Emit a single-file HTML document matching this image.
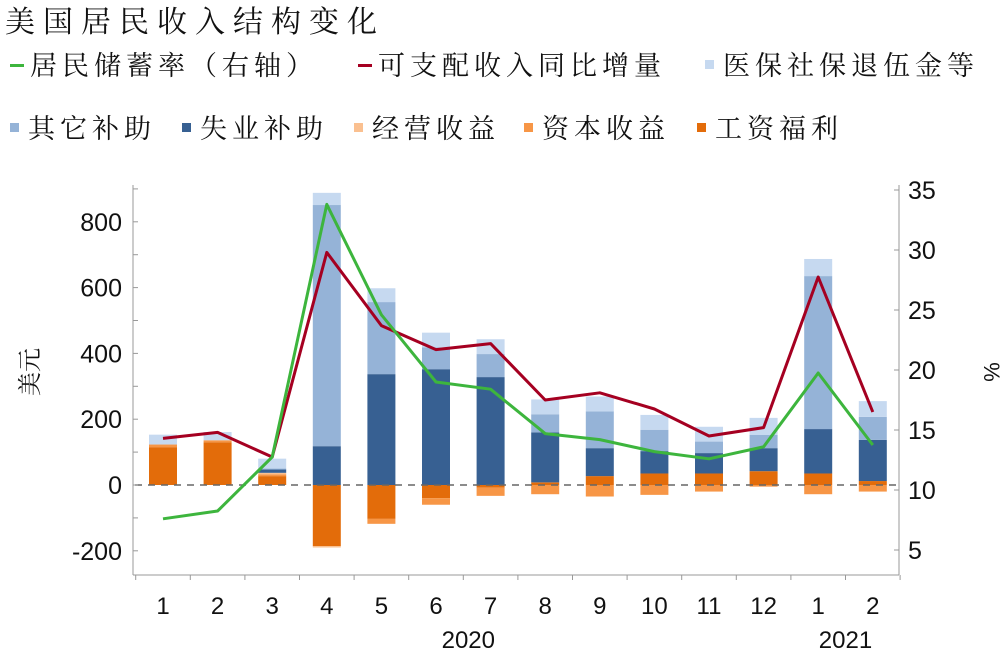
<!DOCTYPE html>
<html><head><meta charset="utf-8"><style>
body{margin:0;background:#fff;width:1000px;height:656px;overflow:hidden;font-family:"Liberation Sans",sans-serif}
.cjk{font-family:"Liberation Serif","Noto Serif CJK SC",serif}
</style></head><body>
<svg width="1000" height="656" viewBox="0 0 1000 656" xmlns="http://www.w3.org/2000/svg">
<text class="cjk" x="5" y="32" font-size="30" letter-spacing="8" fill="#111">美国居民收入结构变化</text>
<g id="legend" class="cjk" font-size="27" letter-spacing="5" fill="#111"></g>
<g id="plot"></g>
</svg>
<script>
const categories=["1","2","3","4","5","6","7","8","9","10","11","12","1","2"];
const wages=[115,130,27,-186,-103,-40,-8,8,27,35,35,42,35,12];
const capital=[8,6,5,0,-15,-20,-25,-28,-35,-30,-20,-5,-28,-20];
const business=[0,0,5,-4,0,0,0,0,0,0,0,0,0,0];
const unemployment=[0,0,10,118,337,352,328,152,85,68,62,70,135,125];
const otherAid=[0,0,3,733,219,66,70,55,112,65,35,40,465,70];
const medical=[30,25,30,37,42,45,45,45,45,45,45,52,52,48];
const disposable=[14.3,14.8,12.75,29.8,23.7,21.7,22.2,17.5,18.1,16.75,14.5,15.2,27.75,16.5];
const savingRate=[7.6,8.25,12.75,33.8,24.6,19,18.4,14.7,14.2,13.2,12.6,13.6,19.75,13.75];
const leftTicks=[-200,0,200,400,600,800];
const rightTicks=[5,10,15,20,25,30,35];

const NS="http://www.w3.org/2000/svg";
const plot=document.getElementById('plot');
const yL=v=>485-v*0.329;
const yR=v=>490-(v-10)*12;
const xC=i=>163+i*54.6;
function mk(tag,attrs,parent){const e=document.createElementNS(NS,tag);for(const k in attrs)e.setAttribute(k,attrs[k]);(parent||plot).appendChild(e);return e;}

const series=[["wages",wages,"#E36C0A"],["capital",capital,"#F79646"],["business",business,"#FAC090"],["unemployment",unemployment,"#376092"],["other-aid",otherAid,"#95B3D7"],["medical",medical,"#C6D9F0"]];
categories.forEach((c,i)=>{
  let pos=0,neg=0;
  series.forEach(([n,arr,col])=>{
    const v=arr[i]; if(!v) return;
    let y0,y1;
    if(v>0){y0=pos;y1=pos+v;pos=y1;}else{y0=neg;y1=neg+v;neg=y1;}
    const r=mk('rect',{x:xC(i)-14,y:Math.min(yL(y0),yL(y1)),width:28,height:Math.abs(yL(y1)-yL(y0)),fill:col});
    
    
  });
});
const z=mk('line',{x1:135,x2:897,y1:yL(0),y2:yL(0),stroke:'#666','stroke-width':1.5,'stroke-dasharray':'7,6'});


function line(arr,col,name){
  const p=mk('polyline',{points:arr.map((v,i)=>xC(i)+','+yR(v)).join(' '),fill:'none',stroke:col,'stroke-width':3,'stroke-linejoin':'round'});
  
  
}
line(disposable,'#A50021','line-disposable-income');
line(savingRate,'#3DB53D','line-saving-rate');
const la=mk('line',{x1:133,x2:133,y1:185,y2:575,stroke:'#999','stroke-width':1});


for(let v=-300;v<=900;v+=100){const y=yL(v);if(y<185||y>575)continue;mk('line',{x1:133,x2:138,y1:y,y2:y,stroke:'#999'});}
leftTicks.forEach(v=>{const t=mk('text',{x:122,y:yL(v)+9,'text-anchor':'end','font-size':25,fill:'#111'});t.textContent=v;

});
const ra=mk('line',{x1:899,x2:899,y1:185,y2:575,stroke:'#999','stroke-width':1});


rightTicks.forEach(v=>{mk('line',{x1:894,x2:899,y1:yR(v),y2:yR(v),stroke:'#999'});
const t=mk('text',{x:908,y:yR(v)+9,'font-size':25,fill:'#111'});t.textContent=v;

});
const xa=mk('line',{x1:133,x2:899,y1:575,y2:575,stroke:'#999'});


for(let i=0;i<=categories.length;i++){const x=xC(i)-27.3;mk('line',{x1:x,x2:x,y1:575,y2:580,stroke:'#999'});}
categories.forEach((c,i)=>{const t=mk('text',{x:xC(i),y:614,'text-anchor':'middle','font-size':24,fill:'#111'});t.textContent=c;

});
[["2020",xC(5.5)+5],["2021",xC(12.5)]].forEach(([s,x])=>{const t=mk('text',{x:x,y:648,'text-anchor':'middle','font-size':24,fill:'#111'});t.textContent=s;

});
const yt=mk('text',{x:0,y:0,'font-size':24,fill:'#111','class':'cjk',transform:'translate(38,372) rotate(-90)','text-anchor':'middle'});yt.textContent='美元';


const rt=mk('text',{x:0,y:0,'font-size':22,fill:'#111',transform:'translate(984,372) rotate(90)','text-anchor':'middle'});rt.textContent='%';



const lg=document.getElementById('legend');
const items=[["line","#3DB53D","居民储蓄率（右轴）",10,75],["line","#A50021","可支配收入同比增量",358,75],["sq","#C6D9F0","医保社保退伍金等",703,75],
["sq","#95B3D7","其它补助",8,138],["sq","#376092","失业补助",180,138],["sq","#FAC090","经营收益",352,138],["sq","#F79646","资本收益",522,138],["sq","#E36C0A","工资福利",695,138]];
items.forEach(([k,col,txt,x,y])=>{
  const g=mk('g',{},lg);
  
  
  if(k==='line')mk('rect',{x:x,y:y-11,width:14,height:3,fill:col},g);
  else mk('rect',{x:x+2,y:y-15,width:9,height:9,fill:col},g);
  const t=mk('text',{x:x+20,y:y},g);t.textContent=txt;
});
</script>
</body></html>
